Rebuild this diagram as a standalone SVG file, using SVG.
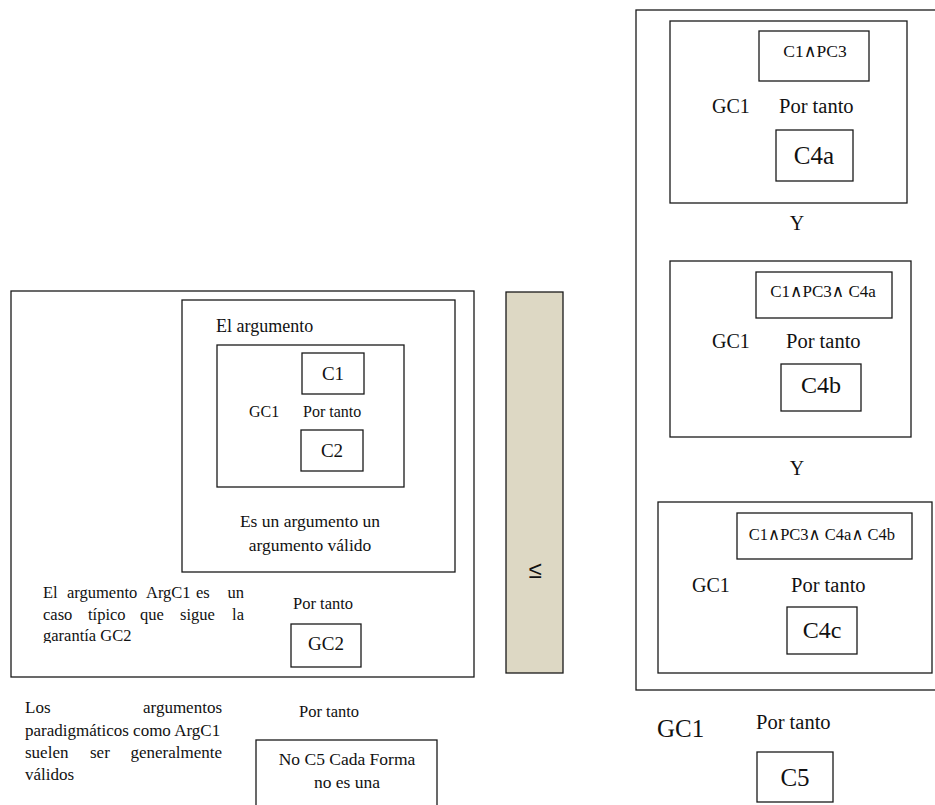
<svg xmlns="http://www.w3.org/2000/svg" width="935" height="805" viewBox="0 0 935 805">
<style>
rect{fill:none;stroke:#1a1a1a;stroke-width:1.3}
text{fill:#111}
.m{text-anchor:middle}
.e{text-anchor:end}
</style>
<defs>
<clipPath id="clipG"><rect x="0" y="620" width="300" height="23"/></clipPath>
</defs>
<rect x="0" y="0" width="935" height="805" style="fill:#fff;stroke:none"/>
<g id="connectors"/>
<g font-family="'Liberation Serif', 'DejaVu Serif', 'Noto Serif', serif">
<g id="left-outer">
<rect x="11" y="291" width="463" height="386"/>
<text font-size="16.5"><tspan x="43" y="598">El</tspan><tspan x="67" y="598">argumento</tspan><tspan x="146" y="598">ArgC1</tspan><tspan x="196" y="598">es</tspan><tspan x="244" y="598" class="e">un</tspan></text>
<text font-size="16.5"><tspan x="43" y="620">caso</tspan><tspan x="88" y="620">típico</tspan><tspan x="140" y="620">que</tspan><tspan x="180" y="620">sigue</tspan><tspan x="244" y="620" class="e">la</tspan></text>
<text font-size="16.5" x="43" y="641" clip-path="url(#clipG)">garantía GC2</text>
<text font-size="16.5" x="293" y="609">Por tanto</text>
</g>
<g id="argumento">
<rect x="182" y="300" width="273" height="272"/>
<text font-size="18" x="216" y="332">El argumento</text>
<text font-size="17.5" class="m" x="310" y="527">Es un argumento un</text>
<text font-size="17.5" class="m" x="310" y="551">argumento válido</text>
</g>
<g id="inner-arg">
<rect x="217" y="345" width="187" height="142"/>
<text font-size="16" x="249" y="417">GC1</text>
<text font-size="16" x="303" y="417">Por tanto</text>
</g>
<g id="c1"><rect x="302" y="353" width="62" height="41"/><text font-size="19" class="m" x="333" y="380">C1</text></g>
<g id="c2"><rect x="301" y="430" width="62" height="41"/><text font-size="19" class="m" x="332" y="457">C2</text></g>
<g id="gc2"><rect x="291" y="624" width="70" height="43"/><text font-size="19" class="m" x="326" y="650">GC2</text></g>
<g id="paradigmaticos">
<text font-size="17"><tspan x="25" y="713">Los</tspan><tspan x="222" y="713" class="e">argumentos</tspan></text>
<text font-size="17" x="25" y="736">paradigmáticos como ArgC1</text>
<text font-size="17"><tspan x="25" y="758">suelen</tspan><tspan x="90" y="758">ser</tspan><tspan x="222" y="758" class="e">generalmente</tspan></text>
<text font-size="17" x="25" y="780">válidos</text>
<text font-size="16.5" x="299" y="717">Por tanto</text>
</g>
<g id="no-c5">
<rect x="256" y="740" width="181" height="80"/>
<text font-size="17.5" class="m" x="347" y="765">No C5 Cada Forma</text>
<text font-size="17.5" class="m" x="347" y="788">no es una</text>
</g>
<g id="leq-bar">
<rect x="506" y="292" width="57" height="381" style="fill:#ddd8c4"/>
<text font-size="24" class="m" x="535" y="578" font-family="'Liberation Sans', Arial, sans-serif">≤</text>
</g>
<g id="right-outer">
<rect x="636" y="10" width="305" height="680"/>
<text font-size="20" class="m" x="797" y="230">Y</text>
<text font-size="20" class="m" x="797" y="475">Y</text>
</g>
<g id="box-a">
<rect x="670" y="21" width="237" height="182"/>
<rect x="759" y="31" width="110" height="50"/>
<text font-size="17.5" class="m" x="815" y="57">C1∧PC3</text>
<text font-size="20" x="712" y="113">GC1</text>
<text font-size="20.5" x="779" y="113">Por tanto</text>
<rect x="776" y="130" width="77" height="51"/>
<text font-size="25" class="m" x="814" y="164">C4a</text>
</g>
<g id="box-b">
<rect x="670" y="261" width="241" height="176"/>
<rect x="756" y="272" width="136" height="46"/>
<text font-size="17" class="m" x="823" y="297">C1∧PC3∧ C4a</text>
<text font-size="20" x="712" y="348">GC1</text>
<text font-size="20.5" x="786" y="348">Por tanto</text>
<rect x="781" y="364" width="80" height="47"/>
<text font-size="24" class="m" x="821" y="393">C4b</text>
</g>
<g id="box-c">
<rect x="658" y="502" width="274" height="171"/>
<rect x="737" y="513" width="175" height="46"/>
<text font-size="16.5" class="m" x="822" y="540">C1∧PC3∧ C4a∧ C4b</text>
<text font-size="20" x="692" y="592">GC1</text>
<text font-size="20.5" x="791" y="592">Por tanto</text>
<rect x="787" y="607" width="70" height="47"/>
<text font-size="24" class="m" x="822" y="638">C4c</text>
</g>
<g id="c5-conclusion">
<text font-size="25" x="657" y="737">GC1</text>
<text font-size="20.5" x="756" y="729">Por tanto</text>
<rect x="757" y="752" width="76" height="50"/>
<text font-size="25" class="m" x="795" y="786">C5</text>
</g>
</g>
</svg>
